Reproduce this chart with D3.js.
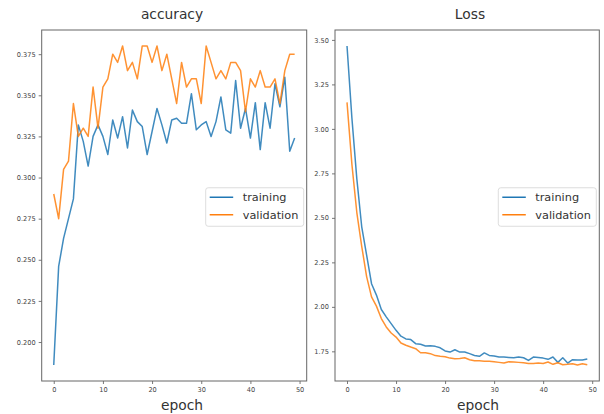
<!DOCTYPE html>
<html>
<head>
<meta charset="utf-8">
<script src="https://cdn.jsdelivr.net/npm/d3@7"></script>
<style>
  body { margin: 0; background: #fff; }
  svg { font-family: "DejaVu Sans", sans-serif; }
</style>
</head>
<body>
<svg id="chart" width="604" height="414"></svg>
<script>
// Training curves (50 epochs)
const epochs = d3.range(50);

const accTrain = [0.186, 0.246, 0.263, 0.275, 0.287, 0.332, 0.322, 0.307, 0.325, 0.332,
  0.325, 0.314, 0.335, 0.324, 0.337, 0.318, 0.341, 0.334, 0.331, 0.314,
  0.328, 0.342, 0.332, 0.321, 0.335, 0.336, 0.333, 0.333, 0.351, 0.329,
  0.332, 0.334, 0.325, 0.334, 0.349, 0.329, 0.327, 0.359, 0.330, 0.342,
  0.324, 0.3455, 0.317, 0.3455, 0.330, 0.357, 0.343, 0.361, 0.316, 0.324];
const accVal = [0.290, 0.275, 0.305, 0.310, 0.345, 0.325, 0.330, 0.325, 0.355, 0.330,
  0.355, 0.360, 0.375, 0.370, 0.380, 0.365, 0.370, 0.360, 0.380, 0.380,
  0.370, 0.380, 0.365, 0.375, 0.360, 0.345, 0.370, 0.355, 0.360, 0.360,
  0.345, 0.380, 0.370, 0.360, 0.365, 0.360, 0.370, 0.370, 0.365, 0.340,
  0.360, 0.355, 0.365, 0.355, 0.355, 0.360, 0.345, 0.365, 0.375, 0.375];

const lossTrain = [3.466, 3.06, 2.72, 2.45, 2.29, 2.13, 2.066, 1.985, 1.944, 1.906,
  1.868, 1.835, 1.820, 1.816, 1.793, 1.790, 1.780, 1.782, 1.778, 1.770,
  1.752, 1.746, 1.759, 1.746, 1.746, 1.737, 1.727, 1.722, 1.741, 1.727,
  1.724, 1.718, 1.718, 1.716, 1.714, 1.718, 1.714, 1.699, 1.718, 1.716,
  1.712, 1.705, 1.718, 1.688, 1.714, 1.684, 1.703, 1.701, 1.701, 1.707];
const lossVal = [3.149, 2.80, 2.53, 2.34, 2.17, 2.056, 2.004, 1.934, 1.887, 1.853,
  1.830, 1.797, 1.784, 1.774, 1.765, 1.742, 1.742, 1.737, 1.726, 1.722,
  1.720, 1.712, 1.709, 1.710, 1.714, 1.703, 1.697, 1.697, 1.695, 1.694,
  1.692, 1.688, 1.684, 1.692, 1.690, 1.688, 1.686, 1.682, 1.682, 1.684,
  1.682, 1.690, 1.677, 1.686, 1.675, 1.677, 1.680, 1.673, 1.680, 1.675];

const seriesNames = ['training', 'validation'];
const colors = ['#1f77b4', '#ff7f0e'];

const accTicks = [0.200, 0.225, 0.250, 0.275, 0.300, 0.325, 0.350, 0.375];
const lossTicks = [1.75, 2.00, 2.25, 2.50, 2.75, 3.00, 3.25, 3.50];
const epochTicks = [0, 10, 20, 30, 40, 50];

const svg = d3.select('#chart');

// matplotlib style 5% padding
function padded(extent) {
    const m = (extent[1] - extent[0]) * 0.05;
    return [extent[0] - m, extent[1] + m];
}

function drawPanel(opts) {
    const { left, right, top, bottom, title, titleX, labelX, series, yTicks, yFmt } = opts;
    const g = svg.append('g');

    const x = d3.scaleLinear().domain(padded([0, 49])).range([left, right]);
    const all = series.flat();
    const y = d3.scaleLinear().domain(padded(d3.extent(all))).range([bottom, top]);

    // lines
    const line = d3.line().x((d, i) => x(epochs[i])).y(d => y(d));
    series.forEach((s, k) => {
        g.append('path')
            .datum(s)
            .attr('fill', 'none')
            .attr('stroke', colors[k])
            .attr('stroke-width', 1.5)
            .attr('stroke-opacity', 0.85)
            .attr('stroke-linejoin', 'round')
            .attr('d', line);
    });

    // axes
    const xAxis = g.append('g')
        .attr('transform', `translate(0,${bottom})`)
        .call(d3.axisBottom(x).tickValues(epochTicks).tickSize(3).tickPadding(3));
    const yAxis = g.append('g')
        .attr('transform', `translate(${left},0)`)
        .call(d3.axisLeft(y).tickValues(yTicks).tickFormat(d3.format(yFmt)).tickSize(3).tickPadding(3));
    [xAxis, yAxis].forEach(a => {
        a.select('.domain').remove();
        a.selectAll('line').attr('stroke', '#555').attr('stroke-width', 0.8);
        a.selectAll('text').attr('fill', '#444').style('font-size', '6.6px')
            .style('font-family', '"DejaVu Sans", sans-serif');
    });

    // frame
    g.append('rect')
        .attr('x', left).attr('y', top)
        .attr('width', right - left).attr('height', bottom - top)
        .attr('fill', 'none').attr('stroke', '#666').attr('stroke-width', 1);

    // title and xlabel
    g.append('text')
        .attr('x', titleX).attr('y', 19)
        .attr('text-anchor', 'middle')
        .attr('fill', '#333')
        .style('font-size', '13.8px')
        .text(title);
    g.append('text')
        .attr('x', labelX).attr('y', 410)
        .attr('text-anchor', 'middle')
        .attr('fill', '#333')
        .style('font-size', '13.8px')
        .text('epoch');

    // legend, center right
    const lw = 98, lh = 38.5;
    const lx = right - 3 - lw;
    const ly = (top + bottom) / 2 - lh / 2 + 1.5;
    const leg = g.append('g').attr('transform', `translate(${lx},${ly})`);
    leg.append('rect')
        .attr('width', lw).attr('height', lh)
        .attr('rx', 2.5)
        .attr('fill', 'rgba(255,255,255,0.8)')
        .attr('stroke', '#d4d4d4').attr('stroke-width', 0.8);
    seriesNames.forEach((name, k) => {
        const yy = 9.5 + k * 17.5;
        leg.append('line')
            .attr('x1', 4).attr('x2', 27.5)
            .attr('y1', yy).attr('y2', yy)
            .attr('stroke', colors[k]).attr('stroke-width', 1.5);
        leg.append('text')
            .attr('x', 37).attr('y', yy + 4)
            .attr('fill', '#333')
            .style('font-size', '11.3px')
            .text(name);
    });
}

drawPanel({
    left: 41.7, right: 306.7, top: 30, bottom: 381,
    title: 'accuracy', titleX: 172, labelX: 182,
    series: [accTrain, accVal], yTicks: accTicks, yFmt: '.3f'
});

drawPanel({
    left: 335, right: 599.3, top: 30, bottom: 381,
    title: 'Loss', titleX: 470, labelX: 478,
    series: [lossTrain, lossVal], yTicks: lossTicks, yFmt: '.2f'
});
</script>
</body>
</html>
